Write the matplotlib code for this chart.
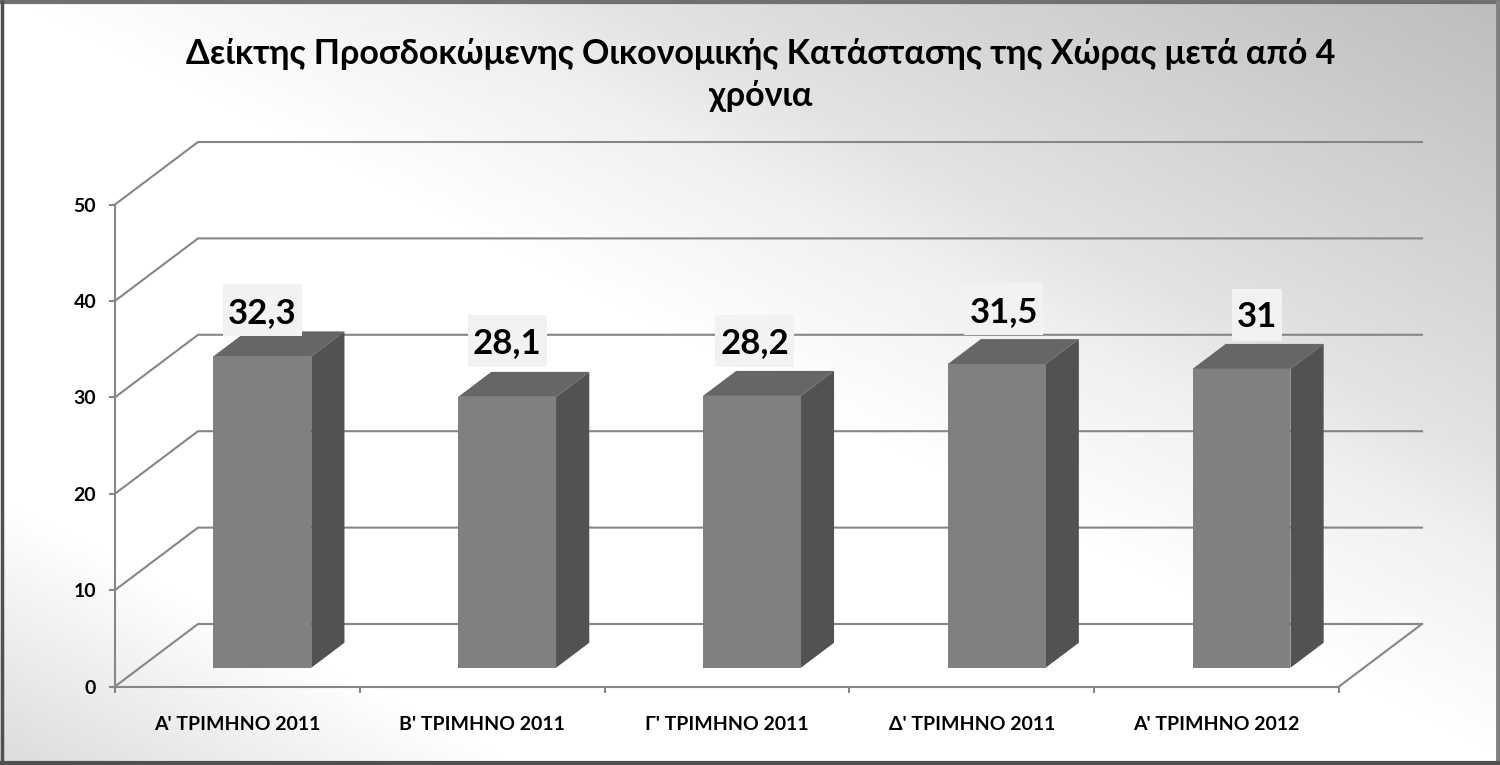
import matplotlib

matplotlib.use("Agg")
import matplotlib.pyplot as plt
import numpy as np
from matplotlib.patches import Polygon, Rectangle
from matplotlib.transforms import IdentityTransform

categories = [
    "Α' ΤΡΙΜΗΝΟ 2011",
    "Β' ΤΡΙΜΗΝΟ 2011",
    "Γ' ΤΡΙΜΗΝΟ 2011",
    "Δ' ΤΡΙΜΗΝΟ 2011",
    "Α' ΤΡΙΜΗΝΟ 2012",
]
values = [32.3, 28.1, 28.2, 31.5, 31]
value_labels = ["32,3", "28,1", "28,2", "31,5", "31"]
y_ticks = [0, 10, 20, 30, 40, 50]
title = "Δείκτης Προσδοκώμενης Οικονομικής Κατάστασης της Χώρας μετά από 4\nχρόνια"

# label shift from bar top in pixels, the original has them placed by hand
label_dx = [0, 0, 3, 7, 15]
label_dy = [46, 56, 55, 55, 54]
box_w = [79, 79, 79, 79, 50]
BOX_H = 52

plt.rcParams["font.family"] = ["Lato", "Noto Sans", "DejaVu Sans"]

W, H = 1500, 765
DEPTH_X = 83 / 244.8  # back wall shift, in category units
DEPTH_Y = 62.5 / 9.64  # back wall shift, in value units
BAR_W = 0.4
GRID = "#868686"


def project(x, y, d):
    return x + d * DEPTH_X, y + d * DEPTH_Y


def bar3d(ax, i, v):
    x0, x1 = i + 0.5 - BAR_W / 2, i + 0.5 + BAR_W / 2
    d0, d1 = 0.3, 0.7
    front = [project(x0, 0, d0), project(x1, 0, d0), project(x1, v, d0), project(x0, v, d0)]
    side = [project(x1, 0, d0), project(x1, 0, d1), project(x1, v, d1), project(x1, v, d0)]
    top = [project(x0, v, d0), project(x1, v, d0), project(x1, v, d1), project(x0, v, d1)]
    for pts, col in [(side, "#525252"), (top, "#666666"), (front, "#808080")]:
        ax.add_patch(Polygon(pts, closed=True, fc=col, ec="none", zorder=3, clip_on=False))


fig = plt.figure(figsize=(W / 100, H / 100), dpi=100)

# background gradient and frame
bg = fig.add_axes([0, 0, 1, 1])
yy, xx = np.mgrid[0:1:384j, 0:1:750j]
t = xx + (1 - yy)  # 0 at the bottom left corner, 2 at the top right one
shade = np.interp(t, [0.0, 0.35, 1.0, 1.27, 1.4, 2.0], [0.86, 1.0, 1.0, 0.94, 0.89, 0.74])
bg.imshow(shade, cmap="gray", vmin=0, vmax=1, extent=[0, W, 0, H], aspect="auto", origin="upper")
bg.set_xlim(0, W)
bg.set_ylim(0, H)
bg.axis("off")
bg.plot([0, W], [H - 2, H - 2], color="#707070", lw=3, solid_capstyle="butt")
bg.plot([W - 2.5, W - 2.5], [0, H], color="#808080", lw=3.5, solid_capstyle="butt")
bg.plot([1.5, 1.5], [0, H], color="#505050", lw=2.5, solid_capstyle="butt")
bg.plot([0, W], [2, 2], color="#505050", lw=3, solid_capstyle="butt")

ax = fig.add_axes([115 / W, (H - 686.5) / H, 1224 / W, 482 / H])
ax.patch.set_alpha(0)
ax.set_xlim(0, len(categories))
ax.set_ylim(0, 50)
for s in ["top", "right"]:
    ax.spines[s].set_visible(False)
for s in ["left", "bottom"]:
    ax.spines[s].set_color(GRID)
    ax.spines[s].set_linewidth(1.5)

ax.set_yticks(y_ticks)
ax.set_xticks(range(len(categories) + 1))
ax.set_xticklabels([])
ax.set_xticks(np.arange(len(categories)) + 0.5, categories, minor=True)
ax.tick_params(axis="y", length=4, width=1.5, color=GRID, labelsize=14, pad=9.5)
ax.tick_params(axis="x", which="major", length=4.5, width=1.5, color=GRID)
ax.tick_params(axis="x", which="minor", length=0, labelsize=14, pad=21.5)
for lab in ax.get_yticklabels() + ax.get_xticklabels(minor=True):
    lab.set_fontweight("bold")
    lab.set_color("black")

# wall gridlines
n = len(categories)
for v in y_ticks:
    bx, by = project(0, v, 1)
    ex, ey = project(n, v, 1)
    ax.plot([0, bx, ex], [v, by, ey], color=GRID, lw=1.5, clip_on=False, zorder=1, solid_joinstyle="miter")
fx, fy = project(n, 0, 1)
ax.plot([n, fx], [0, fy], color=GRID, lw=1.5, clip_on=False, zorder=1)

for i, v in enumerate(values):
    bar3d(ax, i, v)
    x0, y0 = project(i + 0.5, v, 0.3)
    px, py = ax.transData.transform((x0, y0))
    cx, cy = px + label_dx[i], py + label_dy[i]
    ax.add_patch(
        Rectangle(
            (cx - box_w[i] / 2, cy - BOX_H / 2),
            box_w[i],
            BOX_H,
            transform=IdentityTransform(),
            fc="#f2f2f2",
            ec="none",
            zorder=4,
            clip_on=False,
        )
    )
    ax.annotate(
        value_labels[i],
        (x0, y0),
        xytext=(label_dx[i] * 0.72, (label_dy[i] - 12.5) * 0.72),
        textcoords="offset points",
        ha="center",
        va="baseline",
        fontsize=25,
        fontweight="bold",
        color="black",
        zorder=5,
    )

fig.text(761 / W, 1 - 75 / H, title, ha="center", va="center", fontsize=24.5, fontweight="bold", linespacing=1.4)

fig.savefig("out.png", dpi=100)
